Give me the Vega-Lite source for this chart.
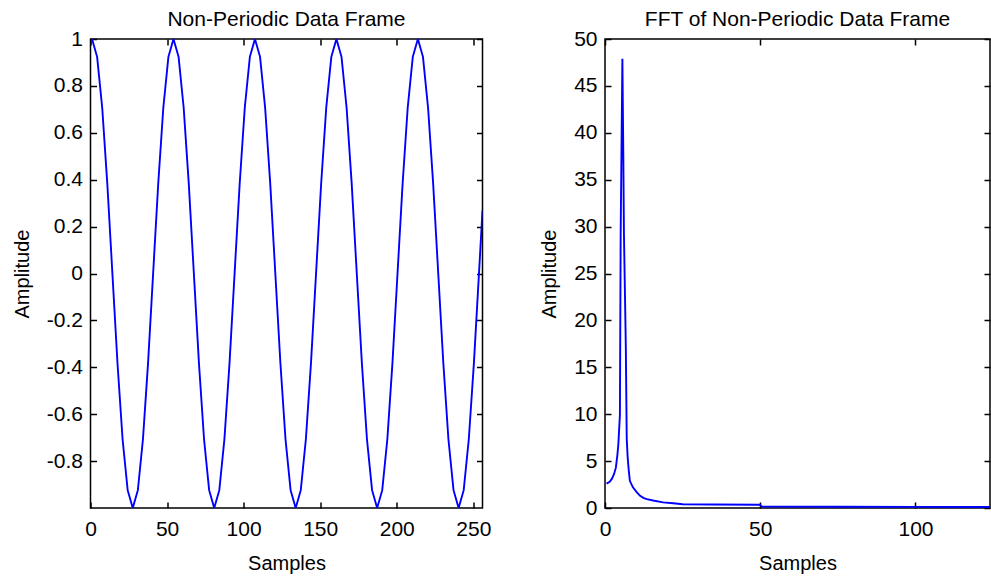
{
  "$schema": "https://vega.github.io/schema/vega-lite/v6.json",
  "background": "white",
  "padding": {"left": 11.5, "top": 8, "right": 0, "bottom": 0},
  "spacing": 45.5,
  "datasets": {
    "wave": [
      {"sample": 1, "amplitude": 1}, {"sample": 4.325, "amplitude": 0.924}, {"sample": 7.65, "amplitude": 0.707}, {"sample": 10.975, "amplitude": 0.383},
      {"sample": 14.3, "amplitude": 0}, {"sample": 17.625, "amplitude": -0.383}, {"sample": 20.95, "amplitude": -0.707}, {"sample": 24.275, "amplitude": -0.924},
      {"sample": 27.6, "amplitude": -1}, {"sample": 30.925, "amplitude": -0.924}, {"sample": 34.25, "amplitude": -0.707}, {"sample": 37.575, "amplitude": -0.383},
      {"sample": 40.9, "amplitude": 0}, {"sample": 44.225, "amplitude": 0.383}, {"sample": 47.55, "amplitude": 0.707}, {"sample": 50.875, "amplitude": 0.924},
      {"sample": 54.2, "amplitude": 1}, {"sample": 57.525, "amplitude": 0.924}, {"sample": 60.85, "amplitude": 0.707}, {"sample": 64.175, "amplitude": 0.383},
      {"sample": 67.5, "amplitude": 0}, {"sample": 70.825, "amplitude": -0.383}, {"sample": 74.15, "amplitude": -0.707}, {"sample": 77.475, "amplitude": -0.924},
      {"sample": 80.8, "amplitude": -1}, {"sample": 84.125, "amplitude": -0.924}, {"sample": 87.45, "amplitude": -0.707}, {"sample": 90.775, "amplitude": -0.383},
      {"sample": 94.1, "amplitude": 0}, {"sample": 97.425, "amplitude": 0.383}, {"sample": 100.75, "amplitude": 0.707}, {"sample": 104.075, "amplitude": 0.924},
      {"sample": 107.4, "amplitude": 1}, {"sample": 110.725, "amplitude": 0.924}, {"sample": 114.05, "amplitude": 0.707}, {"sample": 117.375, "amplitude": 0.383},
      {"sample": 120.7, "amplitude": 0}, {"sample": 124.025, "amplitude": -0.383}, {"sample": 127.35, "amplitude": -0.707}, {"sample": 130.675, "amplitude": -0.924},
      {"sample": 134, "amplitude": -1}, {"sample": 137.325, "amplitude": -0.924}, {"sample": 140.65, "amplitude": -0.707}, {"sample": 143.975, "amplitude": -0.383},
      {"sample": 147.3, "amplitude": 0}, {"sample": 150.625, "amplitude": 0.383}, {"sample": 153.95, "amplitude": 0.707}, {"sample": 157.275, "amplitude": 0.924},
      {"sample": 160.6, "amplitude": 1}, {"sample": 163.925, "amplitude": 0.924}, {"sample": 167.25, "amplitude": 0.707}, {"sample": 170.575, "amplitude": 0.383},
      {"sample": 173.9, "amplitude": 0}, {"sample": 177.225, "amplitude": -0.383}, {"sample": 180.55, "amplitude": -0.707}, {"sample": 183.875, "amplitude": -0.924},
      {"sample": 187.2, "amplitude": -1}, {"sample": 190.525, "amplitude": -0.924}, {"sample": 193.85, "amplitude": -0.707}, {"sample": 197.175, "amplitude": -0.383},
      {"sample": 200.5, "amplitude": 0}, {"sample": 203.825, "amplitude": 0.383}, {"sample": 207.15, "amplitude": 0.707}, {"sample": 210.475, "amplitude": 0.924},
      {"sample": 213.8, "amplitude": 1}, {"sample": 217.125, "amplitude": 0.924}, {"sample": 220.45, "amplitude": 0.707}, {"sample": 223.775, "amplitude": 0.383},
      {"sample": 227.1, "amplitude": 0}, {"sample": 230.425, "amplitude": -0.383}, {"sample": 233.75, "amplitude": -0.707}, {"sample": 237.075, "amplitude": -0.924},
      {"sample": 240.4, "amplitude": -1}, {"sample": 243.725, "amplitude": -0.924}, {"sample": 247.05, "amplitude": -0.707}, {"sample": 250.375, "amplitude": -0.383},
      {"sample": 253.7, "amplitude": 0}, {"sample": 256, "amplitude": 0.268}
    ],
    "fft": [
      {"bin": 0.5, "magnitude": 2.6}, {"bin": 1.5, "magnitude": 2.8}, {"bin": 2.2, "magnitude": 3.1}, {"bin": 2.9, "magnitude": 3.6},
      {"bin": 3.5, "magnitude": 4.3}, {"bin": 4.0, "magnitude": 5.7}, {"bin": 4.3, "magnitude": 6.8}, {"bin": 4.8, "magnitude": 9.9},
      {"bin": 5.05, "magnitude": 29.3}, {"bin": 5.6, "magnitude": 47.9}, {"bin": 5.9, "magnitude": 37.6}, {"bin": 6.1, "magnitude": 29.3},
      {"bin": 6.7, "magnitude": 17.3}, {"bin": 7.0, "magnitude": 7.4}, {"bin": 7.3, "magnitude": 5.4}, {"bin": 7.6, "magnitude": 4.2},
      {"bin": 8.0, "magnitude": 2.9}, {"bin": 9.0, "magnitude": 2.2}, {"bin": 10.2, "magnitude": 1.7}, {"bin": 11.3, "magnitude": 1.3},
      {"bin": 12.5, "magnitude": 1.05}, {"bin": 13.5, "magnitude": 0.95}, {"bin": 15.5, "magnitude": 0.8}, {"bin": 18.7, "magnitude": 0.6},
      {"bin": 22, "magnitude": 0.5}, {"bin": 25, "magnitude": 0.4}, {"bin": 35, "magnitude": 0.37}, {"bin": 49.9, "magnitude": 0.35},
      {"bin": 50.5, "magnitude": 0.15}, {"bin": 75, "magnitude": 0.13}, {"bin": 100, "magnitude": 0.12}, {"bin": 124, "magnitude": 0.1}
    ]
  },
  "hconcat": [
    {
      "title": {"text": "Non-Periodic Data Frame", "frame": "group"},
      "width": 392,
      "height": 469,
      "data": {"name": "wave"},
      "layer": [
        {
          "mark": {"type": "line", "color": "#0000ff", "strokeWidth": 1.9, "clip": true},
          "encoding": {
            "x": {"field": "sample", "type": "quantitative", "scale": {"domain": [0, 256], "nice": false, "zero": false},
                  "axis": {"orient": "bottom", "values": [0, 50, 100, 150, 200, 250], "title": "Samples"}},
            "y": {"field": "amplitude", "type": "quantitative", "scale": {"domain": [-1, 1], "nice": false, "zero": false},
                  "axis": {"orient": "left", "values": [-0.8, -0.6, -0.4, -0.2, 0, 0.2, 0.4, 0.6, 0.8, 1], "title": "Amplitude", "labelExpr": "'' + datum.value"}}
          }
        },
        {
          "mark": {"type": "line", "opacity": 0},
          "encoding": {
            "x": {"field": "sample", "type": "quantitative", "scale": {"domain": [0, 256], "nice": false, "zero": false},
                  "axis": {"orient": "top", "values": [0, 50, 100, 150, 200, 250], "labels": false, "title": null, "labelPadding": 0}},
            "y": {"field": "amplitude", "type": "quantitative", "scale": {"domain": [-1, 1], "nice": false, "zero": false},
                  "axis": {"orient": "right", "values": [-0.8, -0.6, -0.4, -0.2, 0, 0.2, 0.4, 0.6, 0.8, 1], "labels": false, "title": null, "labelPadding": 0}}
          }
        }
      ],
      "resolve": {"axis": {"x": "independent", "y": "independent"}}
    },
    {
      "title": {"text": "FFT of Non-Periodic Data Frame", "frame": "group"},
      "width": 385,
      "height": 469,
      "data": {"name": "fft"},
      "layer": [
        {
          "mark": {"type": "line", "color": "#0000ff", "strokeWidth": 1.9, "clip": true},
          "encoding": {
            "x": {"field": "bin", "type": "quantitative", "scale": {"domain": [0, 124], "nice": false, "zero": false},
                  "axis": {"orient": "bottom", "values": [0, 50, 100], "title": "Samples"}},
            "y": {"field": "magnitude", "type": "quantitative", "scale": {"domain": [0, 50], "nice": false},
                  "axis": {"orient": "left", "values": [0, 5, 10, 15, 20, 25, 30, 35, 40, 45, 50], "title": "Amplitude"}}
          }
        },
        {
          "mark": {"type": "line", "opacity": 0},
          "encoding": {
            "x": {"field": "bin", "type": "quantitative", "scale": {"domain": [0, 124], "nice": false, "zero": false},
                  "axis": {"orient": "top", "values": [0, 50, 100], "labels": false, "title": null, "labelPadding": 0}},
            "y": {"field": "magnitude", "type": "quantitative", "scale": {"domain": [0, 50], "nice": false},
                  "axis": {"orient": "right", "values": [0, 5, 10, 15, 20, 25, 30, 35, 40, 45, 50], "labels": false, "title": null, "labelPadding": 0}}
          }
        }
      ],
      "resolve": {"axis": {"x": "independent", "y": "independent"}}
    }
  ],
  "config": {
    "font": "Liberation Sans",
    "view": {"stroke": "#000000", "strokeWidth": 1.5},
    "title": {"font": "Liberation Sans", "fontSize": 21, "fontWeight": "normal", "color": "#000000", "offset": -2},
    "axis": {
      "domain": false,
      "grid": false,
      "ticks": true,
      "tickSize": -6,
      "tickColor": "#000000",
      "tickWidth": 1.5,
      "labelFont": "Liberation Sans",
      "labelFontSize": 21,
      "labelColor": "#000000",
      "labelFlush": false,
      "labelOverlap": false,
      "titleFont": "Liberation Sans",
      "titleFontSize": 20,
      "titleFontWeight": "normal",
      "titleColor": "#000000"
    },
    "axisX": {"labelPadding": 16, "titlePadding": 14},
    "axisY": {"labelPadding": 14, "titlePadding": 14}
  }
}
